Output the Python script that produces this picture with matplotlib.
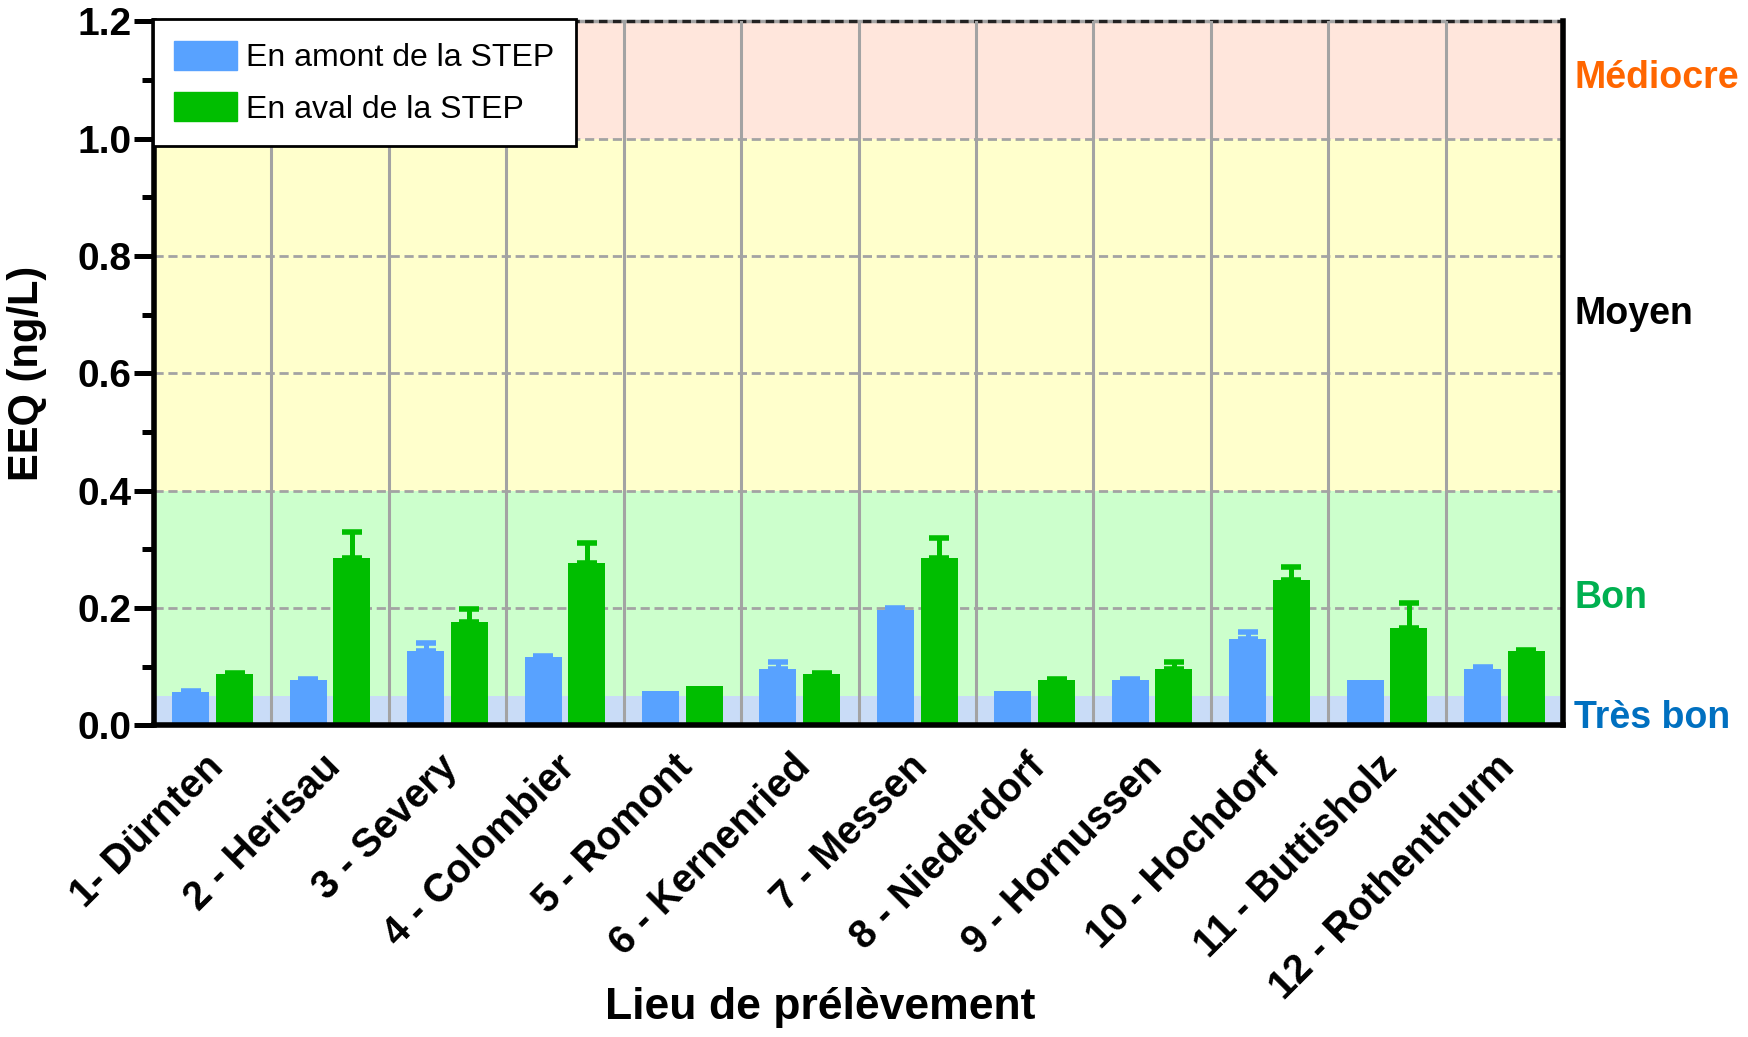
import numpy as np
import matplotlib
matplotlib.use("Agg")
import matplotlib.pyplot as plt
from matplotlib.patches import Patch
from matplotlib.ticker import MultipleLocator
import matplotlib.transforms as mtransforms

plt.rcParams["font.family"] = ["Liberation Sans", "DejaVu Sans"]

SITES = [
    "1- Dürnten", "2 - Herisau", "3 - Severy", "4 - Colombier", "5 - Romont",
    "6 - Kernenried", "7 - Messen", "8 - Niederdorf", "9 - Hornussen",
    "10 - Hochdorf", "11 - Buttisholz", "12 - Rothenthurm",
]
# EEQ (ng/L), upstream / downstream of the treatment plant
UPSTREAM = [0.057, 0.077, 0.127, 0.116, 0.058, 0.097, 0.197, 0.058, 0.077, 0.147, 0.077, 0.097]
UPSTREAM_ERR = [0.002, 0.002, 0.013, 0.003, 0.0, 0.012, 0.0025, 0.0, 0.002, 0.013, 0.0, 0.0025]
DOWNSTREAM = [0.087, 0.286, 0.177, 0.277, 0.067, 0.087, 0.286, 0.077, 0.097, 0.248, 0.167, 0.127]
DOWNSTREAM_ERR = [0.002, 0.043, 0.022, 0.034, 0.0, 0.002, 0.033, 0.002, 0.012, 0.022, 0.042, 0.0025]

# quality classes: (lower, upper, fill, label, label y, label colour)
CLASSES = [
    (0.0, 0.05, "#C9DCF7", "Très bon", 0.012, "#0070C0"),
    (0.05, 0.4, "#CCFFCC", "Bon", 0.218, "#00B050"),
    (0.4, 1.0, "#FFFFCC", "Moyen", 0.702, "#000000"),
    (1.0, 1.2, "#FFE6DC", "Médiocre", 1.104, "#FF6600"),
]

BLUE = "#58A2FF"
GREEN = "#00BE00"
GRID = "#A3A3A3"

fig = plt.figure(figsize=(17.48, 10.37), dpi=100)
ax = fig.add_axes([0.0881, 0.3004, 0.8061, 0.6789])

x = np.arange(len(SITES))
width = 0.315
off = 0.186

for lo, hi, fill, *_ in CLASSES:
    ax.axhspan(lo, hi, color=fill, lw=0, zorder=0)

for y in np.arange(0.2, 1.01, 0.2):
    ax.axhline(y, color=GRID, lw=2, ls=(0, (3.3, 1.7)), zorder=1)
ax.axhline(1.2, color="#222222", lw=2.5, ls=(0, (2.5, 1.5)), gapcolor=GRID, zorder=1, clip_on=False)
for sep in x[:-1] + 0.5:
    ax.axvline(sep, color=GRID, lw=2.2, zorder=1)

ax.bar(x - off, UPSTREAM, width, color=BLUE, zorder=3)
ax.bar(x + off, DOWNSTREAM, width, color=GREEN, zorder=3)

# upper error bars only, skipped where there is no spread
for vals, errs, dx, col in [(UPSTREAM, UPSTREAM_ERR, -off, BLUE), (DOWNSTREAM, DOWNSTREAM_ERR, off, GREEN)]:
    vals = np.array(vals)
    errs = np.array(errs)
    m = errs > 0
    ax.errorbar(x[m] + dx, vals[m], yerr=[np.zeros(m.sum()), errs[m]], fmt="none",
                ecolor=col, elinewidth=3.6, capsize=7.2, capthick=4, zorder=3)

ax.set_xlim(-0.5, len(SITES) - 0.5)
ax.set_ylim(0, 1.2)

ax.yaxis.set_major_locator(MultipleLocator(0.2))
ax.yaxis.set_minor_locator(MultipleLocator(0.1))
ax.set_yticklabels([f"{v:.1f}" for v in ax.get_yticks()])
ax.tick_params(axis="y", which="major", length=14.4, width=3.6, pad=2,
               labelsize=28, direction="out")
ax.tick_params(axis="y", which="minor", length=9, width=3.6, direction="out")
for lab in ax.get_yticklabels():
    lab.set_fontweight("bold")

ax.set_xticks(x)
ax.set_xticklabels(SITES, rotation=45, ha="right", rotation_mode="anchor",
                   fontsize=28.5, fontweight="bold")
ax.tick_params(axis="x", length=0, pad=16)
shift = mtransforms.ScaledTranslation(-0.09, 0, fig.dpi_scale_trans)
for lab in ax.get_xticklabels():
    lab.set_transform(lab.get_transform() + shift)

for side in ["left", "bottom", "right"]:
    ax.spines[side].set_linewidth(4)
    ax.spines[side].set_zorder(4)
ax.spines["top"].set_visible(False)

ax.set_ylabel("EEQ (ng/L)", fontsize=30, fontweight="bold", va="center")
ax.yaxis.set_label_coords(-0.09, 0.5)
ax.set_xlabel("Lieu de prélèvement", fontsize=32, fontweight="bold", va="center")
ax.xaxis.set_label_coords(0.473, -0.40)

# class names on the right of the plot
trans = mtransforms.blended_transform_factory(ax.transAxes, ax.transData)
for _, _, _, name, ly, col in CLASSES:
    ax.text(1.008, ly, name, transform=trans, color=col, fontsize=27,
            fontweight="bold", va="center", ha="left", clip_on=False)

handles = [Patch(color=BLUE, label="En amont de la STEP"),
           Patch(color=GREEN, label="En aval de la STEP")]
leg = ax.legend(handles=handles, loc="upper left", bbox_to_anchor=(-0.001, 1.003),
                fontsize=23, frameon=True, fancybox=False, framealpha=1,
                edgecolor="black", borderaxespad=0, borderpad=0.68,
                handlelength=1.95, handleheight=1.0, handletextpad=0.3,
                labelspacing=0.6)
leg.get_frame().set_linewidth(2)
leg.set_zorder(6)

fig.savefig("out.png", dpi=100)
